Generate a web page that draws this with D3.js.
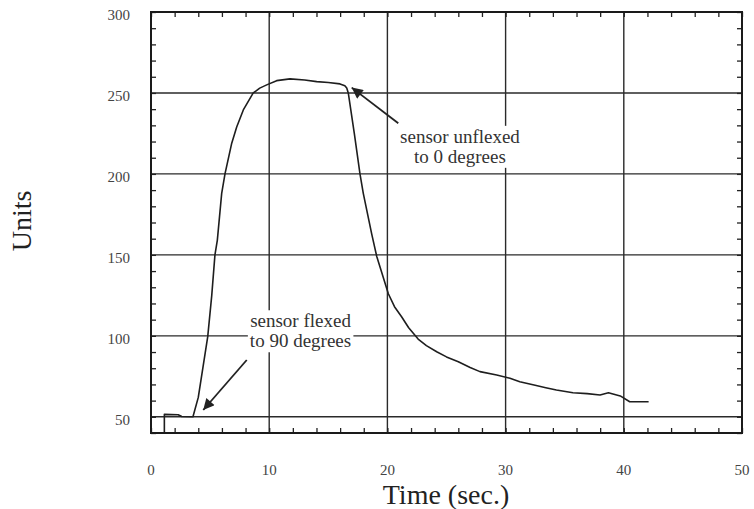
<!DOCTYPE html>
<html>
<head>
<meta charset="utf-8">
<script src="https://cdn.jsdelivr.net/npm/d3@7"></script>
<style>
  body { margin: 0; background: #fff; }
  svg text, svg tspan { font-family: "Liberation Serif", "DejaVu Serif", serif; }
</style>
</head>
<body>
<script>
// values (time in seconds, sensor units)
const timeSec = [1.13, 1.13, 2.3, 2.6, 3.55, 4.0, 4.8, 5.14, 5.41, 5.61, 5.98, 6.26, 6.83, 7.25, 7.81,
  8.65, 9.2, 9.79, 10.63, 11.76, 13.0, 14.02, 15.0, 15.99, 16.4, 16.56, 16.69, 17.2, 17.68,
  17.96, 18.67, 19.1, 20.08, 20.6, 21.2, 21.8, 22.6, 23.3, 24.17, 25.0, 26.0, 27.0, 27.83, 29.25,
  30.37, 31.2, 32.5, 33.4, 34.3, 35.7, 36.9, 37.99, 38.7, 39.7, 40.5, 42.1]
const units = [40, 51.5, 51.3, 50.2, 50, 62, 99.5, 125, 150, 159, 188, 200, 219, 229, 239.5,
  250, 253, 255, 257.6, 258.7, 258, 257, 256.5, 255.6, 254.5, 253, 250, 225, 200,
  188, 163, 149, 126, 118, 111.8, 105, 98, 94, 90.2, 87, 84, 80.5, 77.9, 75.8,
  73.8, 71.7, 69.5, 68, 66.6, 64.9, 64.3, 63.5, 64.9, 62.9, 59.3, 59.3]

const xTickLabels = [0, 10, 20, 30, 40, 50]
const yTickLabels = [50, 100, 150, 200, 250, 300]
const xGrid = [10, 20, 30, 40]
const yGrid = [50, 100, 150, 200, 250]

// annotations: [text lines, label position, arrow tail, arrow tip] in data units
const notes = [
  { lines: ['sensor unflexed', 'to 0 degrees'], at: [26.14, 219.2], tail: [20.92, 231.3], tip: [16.98, 253.3] },
  { lines: ['sensor flexed', 'to 90 degrees'], at: [12.65, 105.3], tail: [8.1, 85.1], tip: [4.42, 54.2] }
]

const FONT = '"Liberation Serif", "DejaVu Serif", serif'

const W = 754, H = 509
const margin = { top: 12, right: 12, bottom: 76, left: 151 }
const width = W - margin.left - margin.right
const height = H - margin.top - margin.bottom

const svg = d3.select('body').append('svg')
  .attr('width', W)
  .attr('height', H)
  .attr('font-family', FONT)

const g = svg.append('g')
  .attr('transform', 'translate(' + margin.left + ',' + margin.top + ')')

const x = d3.scaleLinear().domain([0, 50]).range([0, width])
const y = d3.scaleLinear().domain([40, 300]).range([height, 0])

// grid lines
g.append('g').selectAll('line').data(xGrid).enter().append('line')
  .attr('x1', d => x(d)).attr('x2', d => x(d))
  .attr('y1', 0).attr('y2', height)
  .attr('stroke', '#2a2a2a').attr('stroke-width', 1.4)
g.append('g').selectAll('line').data(yGrid).enter().append('line')
  .attr('x1', 0).attr('x2', width)
  .attr('y1', d => y(d)).attr('y2', d => y(d))
  .attr('stroke', '#2a2a2a').attr('stroke-width', 1.4)

// minor ticks on all four sides, pointing inward
function minor(axis) {
  return function(sel) {
    sel.call(axis)
    sel.select('.domain').remove()
    sel.selectAll('text').remove()
    sel.selectAll('line').attr('stroke', '#222').attr('stroke-width', 1.3)
  }
}
g.append('g').attr('transform', 'translate(0,' + height + ')')
  .call(minor(d3.axisBottom(x).tickValues(d3.range(0, 51, 2)).tickSize(-5).tickFormat('')))
g.append('g')
  .call(minor(d3.axisTop(x).tickValues(d3.range(0, 51, 2)).tickSize(-5).tickFormat('')))
g.append('g')
  .call(minor(d3.axisLeft(y).tickValues(d3.range(40, 301, 10)).tickSize(-5).tickFormat('')))
g.append('g').attr('transform', 'translate(' + width + ',0)')
  .call(minor(d3.axisRight(y).tickValues(d3.range(40, 301, 10)).tickSize(-5).tickFormat('')))

// the trace
const line = d3.line()
  .x((d, i) => x(timeSec[i]))
  .y(d => y(d))
g.append('path')
  .datum(units)
  .attr('fill', 'none')
  .attr('stroke', '#1e1e1e')
  .attr('stroke-width', 1.6)
  .attr('stroke-linejoin', 'round')
  .attr('d', line)

// frame
g.append('rect')
  .attr('width', width).attr('height', height)
  .attr('fill', 'none')
  .attr('stroke', '#1a1a1a').attr('stroke-width', 2)

// tick labels
g.append('g').selectAll('text').data(xTickLabels).enter().append('text')
  .attr('x', d => x(d)).attr('y', height + 37)
  .attr('dy', '0.35em')
  .attr('text-anchor', 'middle')
  .attr('font-family', FONT)
  .attr('font-size', 15).attr('fill', '#444')
  .text(d => d)
g.append('g').selectAll('text').data(yTickLabels).enter().append('text')
  .attr('x', -21).attr('y', d => y(d) + 2.5)
  .attr('dy', '0.35em')
  .attr('text-anchor', 'end')
  .attr('font-family', FONT)
  .attr('font-size', 15).attr('fill', '#444')
  .text(d => d)

// axis titles
svg.append('text')
  .attr('x', 446).attr('y', 504)
  .attr('text-anchor', 'middle')
  .attr('font-family', FONT)
  .attr('font-size', 28).attr('fill', '#222')
  .text('Time (sec.)')
svg.append('text')
  .attr('transform', 'translate(31,221) rotate(-90)')
  .attr('text-anchor', 'middle')
  .attr('font-family', FONT)
  .attr('font-size', 28).attr('fill', '#222')
  .text('Units')

// arrow head
svg.append('defs').append('marker')
  .attr('id', 'head')
  .attr('viewBox', '0 0 10 10')
  .attr('refX', 10).attr('refY', 5)
  .attr('markerWidth', 15).attr('markerHeight', 11)
  .attr('markerUnits', 'userSpaceOnUse')
  .attr('orient', 'auto')
  .append('path')
  .attr('d', 'M0,0 L10,5 L0,10 z')
  .attr('fill', '#222')

// annotations
for (const n of notes) {
  const label = g.append('g')
  const txt = label.append('text')
    .attr('text-anchor', 'middle')
    .attr('font-family', FONT)
    .attr('font-size', 19).attr('fill', '#333')
  n.lines.forEach((s, i) => {
    txt.append('tspan')
      .attr('x', x(n.at[0]))
      .attr('y', y(n.at[1]) + i * 20)
      .text(s)
  })
  const bb = txt.node().getBBox()
  label.insert('rect', 'text')
    .attr('x', bb.x - 2).attr('y', bb.y)
    .attr('width', bb.width + 4).attr('height', bb.height + 1)
    .attr('fill', '#fff')

  g.append('line')
    .attr('x1', x(n.tail[0])).attr('y1', y(n.tail[1]))
    .attr('x2', x(n.tip[0])).attr('y2', y(n.tip[1]))
    .attr('stroke', '#222').attr('stroke-width', 1.8)
    .attr('marker-end', 'url(#head)')
}
</script>
</body>
</html>
